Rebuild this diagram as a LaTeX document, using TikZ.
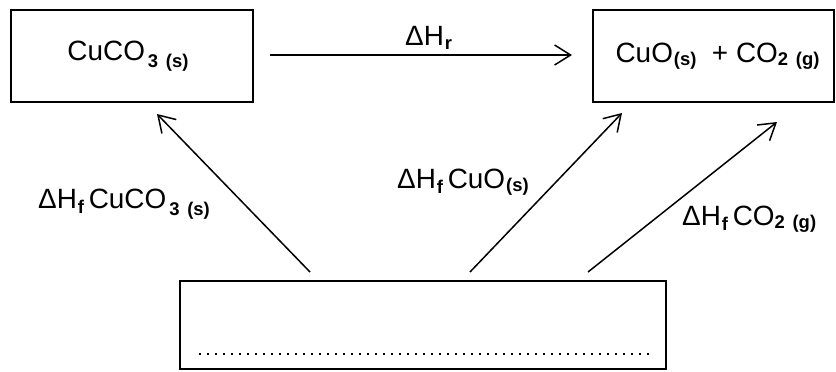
\documentclass[tikz,border=0pt]{standalone}
\usepackage{fontspec}
\setmainfont{Liberation Sans}
\usetikzlibrary{arrows.meta}
\newcommand\sbs[2][-4bp]{\raisebox{#1}{\fontsize{18.5}{18.5}\selectfont\bfseries #2}}
\begin{document}
\begin{tikzpicture}[x=1bp,y=-1bp,
  box/.style={draw, line width=2bp, inner sep=0pt, font=\fontsize{28}{30}\selectfont},
  arr/.style={line width=1.5bp, -{Straight Barb[length=16bp,width=20bp,line width=1.5bp]}},
  lbl/.style={inner sep=0pt, anchor=base west, font=\fontsize{28}{30}\selectfont},
  dots/.style={line width=2bp, dash pattern=on 2bp off 6bp}]
\useasboundingbox (0,0) rectangle (836,371);
\node[box, minimum width=242bp, minimum height=92bp] (L) at (132,56) {\hspace*{-8bp}CuCO\kern3bp\sbs[-7bp]{3}\ \sbs[-7bp]{(s)}};
\node[box, minimum width=241bp, minimum height=92bp] (R) at (713.5,56) {\hspace*{8bp}CuO\kern1bp\sbs[-3bp]{(s)}\ \ + CO\sbs[-3bp]{2}\ \sbs[-3bp]{(g)}};
\node[box, minimum width=486bp, minimum height=88bp] (B) at (423,325) {};
\coordinate (t1) at (270,55);
\coordinate (t2) at (572,55);
\coordinate (a1) at (310,272);
\coordinate (a2) at (157,114);
\coordinate (b1) at (470,272);
\coordinate (b2) at (622,113);
\coordinate (c1) at (588,272);
\coordinate (c2) at (777,122);
\draw[arr] (t1) -- (t2);
\draw[arr] (a1) -- (a2);
\draw[arr] (b1) -- (b2);
\draw[arr] (c1) -- (c2);
\node[lbl] (lr) at (405,45) {ΔH\kern1bp\sbs[-4bp]{r}};
\node[lbl] (l1) at (38,208) {ΔH\kern1bp\sbs[-5bp]{f}\,CuCO\kern3bp\sbs[-7bp]{3}\ \sbs[-7bp]{(s)}};
\node[lbl] (l2) at (397,188) {ΔH\kern1bp\sbs[-5bp]{f}\,CuO\kern1bp\sbs[-3bp]{(s)}};
\node[lbl] (l3) at (682,225) {ΔH\kern1bp\sbs[-5bp]{f}\,CO\sbs[-3bp]{2}\ \sbs[-3bp]{(g)}};
\coordinate (d1) at (199,354);
\coordinate (d2) at (650,354);
\draw[dots] (d1) -- (d2);
\end{tikzpicture}
\end{document}
